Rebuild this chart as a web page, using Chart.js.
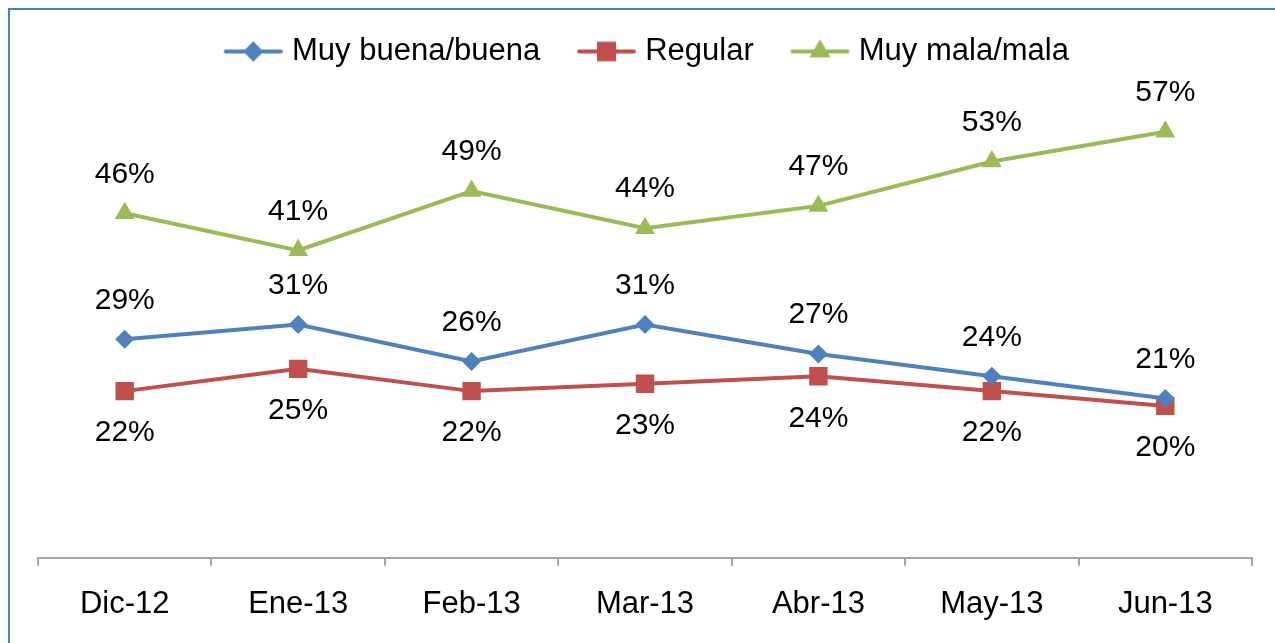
<!DOCTYPE html>
<html>
<head>
<meta charset="utf-8">
<script src="https://cdn.jsdelivr.net/npm/chart.js@4"></script>
<style>
  html, body { margin: 0; padding: 0; background: #fff; }
  #wrap { position: relative; width: 1275px; height: 643px; }
  #frame { position: absolute; left: 8px; top: 8px; right: -10px; bottom: -10px;
           border-left: 2px solid #4a7ebb; border-top: 2px solid #4a7ebb; pointer-events: none; }
  canvas { position: absolute; left: 0; top: 0; }
</style>
</head>
<body>
<div id="wrap">
  <canvas id="chart" width="1275" height="643"></canvas>
  <div id="frame"></div>
</div>
<script>
const months = ['Dic-12', 'Ene-13', 'Feb-13', 'Mar-13', 'Abr-13', 'May-13', 'Jun-13'];
const buena = [29, 31, 26, 31, 27, 24, 21];
const regular = [22, 25, 22, 23, 24, 22, 20];
const mala = [46, 41, 49, 44, 47, 53, 57];

const blue = '#4f81bd';
const red = '#c0504d';
const green = '#9bbb59';
const fontFamily = '"Liberation Sans", Arial, sans-serif';

// little line+marker picture for the legend (line sits left of the box centre)
function legendIcon(color, style, r) {
    const c = document.createElement('canvas');
    c.width = 78; c.height = 26;
    const g = c.getContext('2d');
    g.strokeStyle = color;
    g.lineWidth = 4;
    g.lineCap = 'round';
    g.beginPath(); g.moveTo(16, 13); g.lineTo(71, 13); g.stroke();
    g.fillStyle = color;
    Chart.helpers.drawPoint(g, { pointStyle: style, radius: r, rotation: 0, borderWidth: 0 }, 43.5, 13);
    g.fill();
    return c;
}

// value labels above / below the points
const pointLabels = {
    id: 'pointLabels',
    afterDatasetsDraw(chart) {
        const ctx = chart.ctx;
        ctx.save();
        ctx.font = '30px ' + fontFamily;
        ctx.fillStyle = '#000';
        ctx.textAlign = 'center';
        ctx.textBaseline = 'middle';
        chart.data.datasets.forEach((ds, i) => {
            const meta = chart.getDatasetMeta(i);
            meta.data.forEach((pt, j) => {
                const dy = ds.labelBelow ? 42 : -39;
                ctx.fillText(ds.data[j] + '%', pt.x, pt.y + dy);
            });
        });
        ctx.restore();
    }
};

const ctx = document.getElementById('chart').getContext('2d');
const chart = new Chart(ctx, {
    type: 'line',
    data: {
        labels: months,
        datasets: [
            { label: 'Muy buena/buena', data: buena, borderColor: blue, backgroundColor: blue,
              pointStyle: 'rectRot', pointRadius: 9.5, borderWidth: 4, pointBorderWidth: 0 },
            { label: 'Regular', data: regular, borderColor: red, backgroundColor: red, labelBelow: true,
              pointStyle: 'rect', pointRadius: 13, borderWidth: 4, pointBorderWidth: 0 },
            { label: 'Muy mala/mala', data: mala, borderColor: green, backgroundColor: green,
              pointStyle: 'triangle', pointRadius: 11.5, borderWidth: 4, pointBorderWidth: 0 }
        ]
    },
    options: {
        responsive: false,
        animation: false,
        layout: { padding: { left: 38, right: 23, top: 2, bottom: 0 } },
        plugins: {
            tooltip: { enabled: false },
            legend: {
                position: 'top',
                labels: {
                    color: '#000',
                    font: { family: fontFamily, size: 31 },
                    usePointStyle: true,
                    pointStyleWidth: 55.5,
                    padding: 34,
                    generateLabels(chart) {
                        const items = Chart.defaults.plugins.legend.labels.generateLabels(chart);
                        const icons = [legendIcon(blue, 'rectRot', 10), legendIcon(red, 'rect', 13.5), legendIcon(green, 'triangle', 12)];
                        items.forEach((it, i) => { it.pointStyle = icons[i]; });
                        return items;
                    }
                }
            }
        },
        scales: {
            x: {
                offset: true,
                grid: { offset: true, drawOnChartArea: false, drawTicks: true, tickLength: 8, color: '#a6a6a6', lineWidth: 2 },
                border: { color: '#a6a6a6', width: 2 },
                ticks: { color: '#000', padding: 20, font: { family: fontFamily, size: 31 } }
            },
            y: {
                display: false,
                min: -0.5,
                max: 64.4
            }
        }
    },
    plugins: [pointLabels]
});
</script>
</body>
</html>
